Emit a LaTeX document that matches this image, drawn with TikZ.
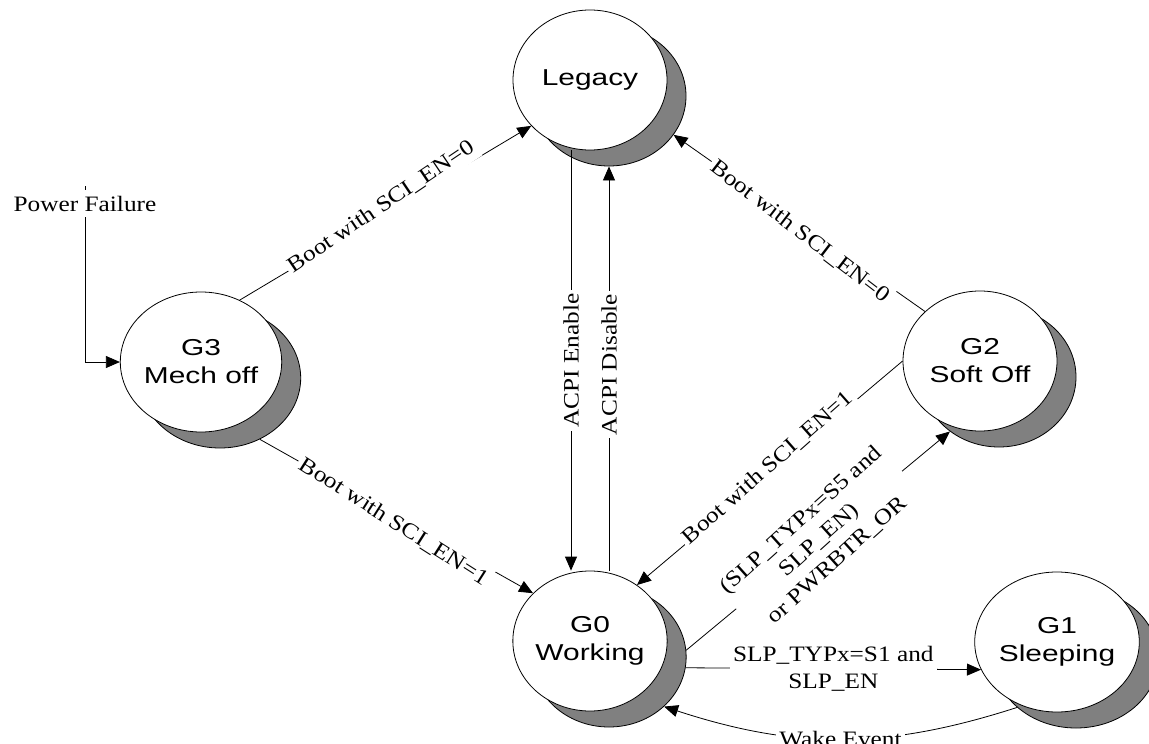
\documentclass[tikz,border=0pt]{standalone}
\usepackage{fontspec}
\setmainfont{Liberation Serif}[FakeStretch=1.15]
\newfontfamily\statefont{Liberation Sans}[FakeStretch=1.3]
\usetikzlibrary{arrows.meta,shapes.geometric,shadows}
\begin{document}
\begin{tikzpicture}[
    x = 1pt,
    y = -1pt,
    state/.style = {ellipse, draw, line width=0.8pt, fill=white,
      minimum width=154pt, minimum height=140pt, inner sep=0pt,
      align=center, font=\statefont\fontsize{23}{28}\selectfont,
      general shadow={shadow xshift=19pt, shadow yshift=-16pt,
        fill=gray, draw=black, line width=0.8pt}},
    trans/.style = {line width=0.8pt, -{Triangle[length=14pt, width=12pt]}},
    lbl/.style = {fill=white, inner xsep=3pt, inner ysep=5pt, align=center,
      font=\fontsize{22}{27}\selectfont}]
  \useasboundingbox (0, 0) rectangle (1149, 744);
  \node[state] (legacy) at (590, 80) {Legacy};
  \node[state] (g3) at (201, 362) {G3\\Mech off};
  \node[state] (g2) at (980, 361) {G2\\Soft Off};
  \node[state] (g0) at (590, 641) {G0\\Working};
  \node[state] (g1) at (1057, 642) {G1\\Sleeping};
  \coordinate (pf) at (85, 186);
  \draw[trans] (pf) |- node[lbl, inner ysep=6pt, pos=.05] {Power Failure} (g3);
  \draw[trans] (g3.58) -- node[lbl, pos=.485, yshift=9pt, rotate=34] {Boot with SCI\_EN=0} (legacy.218);
  \draw[trans] ([xshift=19pt, yshift=-16pt]g3.-57) -- node[lbl, pos=.49, yshift=-7pt, rotate=-32.5] {Boot with SCI\_EN=1} (g0.140);
  \draw[trans] ([xshift=-19pt]legacy.south) -- node[lbl, rotate=90] {ACPI Enable} ([xshift=-19pt]g0.north);
  \draw[trans] ([xshift=19pt]g0.north) -- node[lbl, pos=.51, rotate=90] {ACPI Disable} ([xshift=19pt, yshift=-16pt]legacy.south);
  \draw[trans] (g2.138) -- node[lbl, pos=.497, yshift=-8pt, rotate=-37.5] {Boot with SCI\_EN=0} ([xshift=19pt, yshift=-16pt]legacy.-31);
  \draw[trans] (g2.west) -- node[lbl, pos=.508, yshift=7pt, rotate=41.5] {Boot with SCI\_EN=1} (g0.50);
  \draw[trans] ([xshift=19pt, yshift=-16pt]g0.5) -- node[lbl, pos=.504, rotate=42] {(SLP\_TYPx=S5 and\\SLP\_EN)\\or PWRBTR\_OR} ([xshift=19pt, yshift=-16pt]g2.228);
  \draw[trans] ([xshift=19pt, yshift=-16pt]g0.-8) -- node[lbl] {SLP\_TYPx=S1 and\\SLP\_EN} (g1.200);
  \draw[trans] ([xshift=19pt, yshift=-16pt]g1.220) to[bend left=18] node[lbl] {Wake Event} ([xshift=19pt, yshift=-16pt]g0.-42);
\end{tikzpicture}
\end{document}
